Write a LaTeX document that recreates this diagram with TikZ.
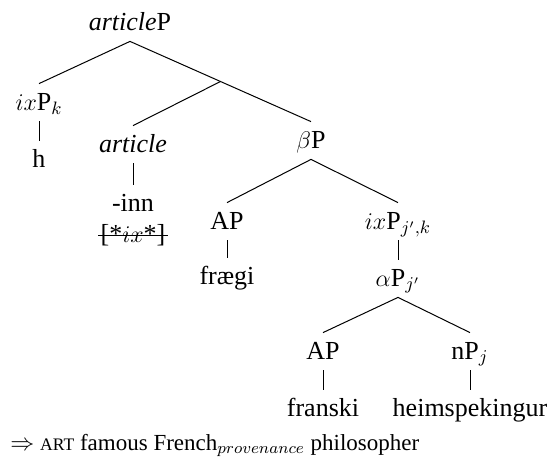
\documentclass[tikz,border=0pt]{standalone}
\usepackage{fontspec}
\setmainfont{Liberation Serif}
\usepackage{tikz}
\usetikzlibrary{calc}
\tikzset{
  cat/.style={anchor=base,font=\fontsize{13}{15}\selectfont,
    text height=9pt,text depth=1.5pt,inner xsep=1pt,inner ysep=4pt},
  word/.style={cat},
  branch/.style={line width=0.5pt,draw=black},
  strike/.style={line width=0.6pt,draw=black},
  gloss/.style={anchor=base west,font=\fontsize{11.5}{13}\selectfont,inner sep=0pt}
}

\begin{document}
\begin{tikzpicture}[x=0.5pt,y=-0.5pt]
  \useasboundingbox (0,0) rectangle (551,466);

  \node[cat] (artP) at (130,30) {\textit{article}P};
  \node[cat] (ixPk) at (39,110) {$ix$P$_k$};
  \node[word] (h) at (39,167) {h};
  \node[cat] (art) at (133,152) {\textit{article}};
  \node[word] (inn) at (133,211) {-inn};
  \node[word] (feat) at (133,242) {[*$ix$*]};
  \node[cat] (betaP) at (311,148) {$\beta$P};
  \node[cat] (APa) at (227,229) {AP};
  \node[word] (fraegi) at (227,284) {frægi};
  \node[cat] (ixPjk) at (398,229) {$ix$P$_{j',k}$};
  \node[cat] (alphaP) at (398,286) {$\alpha$P$_{j'}$};
  \node[cat] (APb) at (323,359) {AP};
  \node[cat] (nPj) at (470,359) {nP$_j$};
  \node[word] (franski) at (323,416) {franski};
  \node[word] (heim) at (470,416) {heimspekingur};

  \coordinate (bar) at ($(artP.south)!0.5!(betaP.north)$);

  \draw[branch] (ixPk.north) -- (artP.south) -- (betaP.north);
  \draw[branch] (bar) -- (art.north);
  \draw[branch] (ixPk.south) -- (h.north);
  \draw[branch] (art.south) -- (inn.north);
  \draw[branch] (APa.north) -- (betaP.south) -- (ixPjk.north);
  \draw[branch] (APa.south) -- (fraegi.north);
  \draw[branch] (ixPjk.south) -- (alphaP.north);
  \draw[branch] (APb.north) -- (alphaP.south) -- (nPj.north);
  \draw[branch] (APb.south) -- (franski.north);
  \draw[branch] (nPj.south) -- (heim.north);
  % struck-out feature
  \draw[strike] ([yshift=3.2pt]feat.base west) -- ([yshift=3.2pt]feat.base east);

  \node[gloss] (tr) at (10,450) {$\Rightarrow$ {\fontsize{8.8}{10}\selectfont ART} famous French$_{provenance}$ philosopher};
\end{tikzpicture}
\end{document}
